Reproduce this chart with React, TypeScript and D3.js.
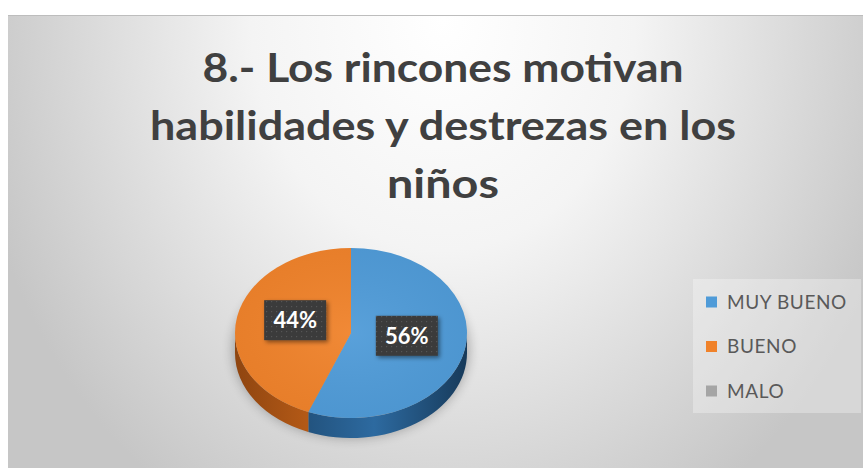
import React from "react";
import * as d3 from "d3";

const categories = ["MUY BUENO", "BUENO", "MALO"];
const values = [56, 44, 0];
const labels = ["56%", "44%", ""];
const colors = ["#4f9bd8", "#f0822a", "#a5a5a5"];
const sideDark = ["#173a5a", "#8f4510", "#777"];
const sideLight = ["#2d6aa0", "#d56c1c", "#999"];
const titleLines = ["8.- Los rincones motivan", "habilidades y destrezas en los", "niños"];
const titleWidths = [481, 586, 112];

const W = 863, H = 468;
const cx = 351, cy = 333, rx = 116, ry = 85, depth = 20;

function pt(a: number, dy = 0): [number, number] {
  return [cx + rx * Math.sin(a), cy - ry * Math.cos(a) + dy];
}

function topPath(a0: number, a1: number) {
  const p0 = pt(a0), p1 = pt(a1);
  const large = a1 - a0 > Math.PI ? 1 : 0;
  return `M${cx},${cy}L${p0[0]},${p0[1]}A${rx},${ry} 0 ${large} 1 ${p1[0]},${p1[1]}Z`;
}

function sidePath(a0: number, a1: number) {
  const s = Math.max(a0, Math.PI / 2), e = Math.min(a1, (3 * Math.PI) / 2);
  if (e <= s) return null;
  const p0 = pt(s), p1 = pt(e), q1 = pt(e, depth), q0 = pt(s, depth);
  return `M${p0[0]},${p0[1]}A${rx},${ry} 0 0 1 ${p1[0]},${p1[1]}L${q1[0]},${q1[1]}A${rx},${ry} 0 0 0 ${q0[0]},${q0[1]}Z`;
}

export default function App() {
  const pie = d3.pie<number>().sort(null).value((d) => d);
  const arcs = pie(values);
  const titleY = d3.scaleLinear().domain([0, 1]).range([82, 140]);
  const legendY = d3.scalePoint<string>().domain(categories).range([302, 391]);

  return (
    <svg width={W} height={H} style={{ position: "absolute", left: 0, top: 0 }} xmlns="http://www.w3.org/2000/svg">
      <defs>
        <radialGradient id="bg" gradientUnits="userSpaceOnUse" cx={443} cy={20} r={480}
          gradientTransform="translate(443,20) scale(1,1.2) translate(-443,-20)">
          <stop offset="0" stopColor="#ffffff" />
          <stop offset="0.4" stopColor="#f4f4f4" />
          <stop offset="0.75" stopColor="#d9d9d9" />
          <stop offset="1" stopColor="#c6c6c6" />
        </radialGradient>
        {arcs.map((a, i) => (
          <linearGradient key={i} id={`side${i}`} gradientUnits="userSpaceOnUse" x1={cx - rx} x2={cx + rx} y1={0} y2={0}>
            <stop offset="0" stopColor={sideDark[i]} />
            <stop offset="0.6" stopColor={sideLight[i]} />
            <stop offset="1" stopColor={sideDark[i]} />
          </linearGradient>
        ))}
        <radialGradient id="topShine" cx="0.5" cy="0.5" r="0.6">
          <stop offset="0" stopColor="#fff" stopOpacity="0.06" />
          <stop offset="1" stopColor="#000" stopOpacity="0.04" />
        </radialGradient>
        <filter id="blur" x="-30%" y="-30%" width="160%" height="160%">
          <feGaussianBlur stdDeviation="6" />
        </filter>
        <filter id="lblShadow" x="-30%" y="-30%" width="160%" height="160%">
          <feDropShadow dx="2" dy="2" stdDeviation="2" floodColor="#000" floodOpacity="0.45" />
        </filter>
        <pattern id="dots" width="5" height="5" patternUnits="userSpaceOnUse">
          <rect width="5" height="5" fill="#3a3a3a" />
          <rect x="1" y="1" width="1.2" height="1.2" fill="#545454" />
        </pattern>
      </defs>

      <rect x={0} y={0} width={W} height={H} fill="#ffffff" />
      <rect x={8} y={15} width={W - 8} height={H - 15} fill="url(#bg)" />
      <line x1={8} x2={W} y1={15.5} y2={15.5} stroke="#bdbdbd" strokeWidth={1} />

      {titleLines.map((t, i) => (
        <text key={i} x={443} y={titleY(i)} textAnchor="middle" fontFamily="Lato, 'Open Sans', sans-serif"
          fontWeight="bold" fontSize={41} fill="#404040" textLength={titleWidths[i]} lengthAdjust="spacingAndGlyphs">
          {t}
        </text>
      ))}

      <ellipse cx={cx} cy={cy + depth - 4} rx={rx + 2} ry={ry + 4} fill="#000" opacity={0.28} filter="url(#blur)" />

      {arcs.map((a, i) => {
        const d = sidePath(a.startAngle, a.endAngle);
        return d ? <path key={`s${i}`} d={d} fill={`url(#side${i})`} /> : null;
      })}
      {arcs.map((a, i) =>
        a.endAngle - a.startAngle > 0 ? <path key={`t${i}`} d={topPath(a.startAngle, a.endAngle)} fill={colors[i]} /> : null
      )}
      <ellipse cx={cx} cy={cy} rx={rx} ry={ry} fill="url(#topShine)" />

      {arcs.map((a, i) => {
        if (a.endAngle - a.startAngle <= 0) return null;
        const m = (a.startAngle + a.endAngle) / 2;
        const [lx, ly0] = pt(m);
        const x = cx + (lx - cx) * 0.49;
        const y = cy + (ly0 - cy) * 0.49 - 5;
        return (
          <g key={`l${i}`}>
            <rect x={x - 31} y={y - 20} width={62} height={40} fill="url(#dots)" filter="url(#lblShadow)" />
            <text x={x} y={y + 8} textAnchor="middle" fontFamily="Lato, 'Open Sans', sans-serif" fontWeight="bold"
              fontSize={22} fill="#ffffff">
              {labels[i]}
            </text>
          </g>
        );
      })}

      <rect x={693} y={279} width={168} height={134} fill="#ffffff" opacity={0.3} />
      {categories.map((c, i) => (
        <g key={c}>
          <rect x={706} y={(legendY(c) as number) - 5.5} width={11} height={11} fill={colors[i]} />
          <text x={727} y={(legendY(c) as number) + 6.5} fontFamily="Lato, 'Open Sans', sans-serif" fontSize={19}
            letterSpacing={0.6} fill="#595959">
            {c}
          </text>
        </g>
      ))}
    </svg>
  );
}
